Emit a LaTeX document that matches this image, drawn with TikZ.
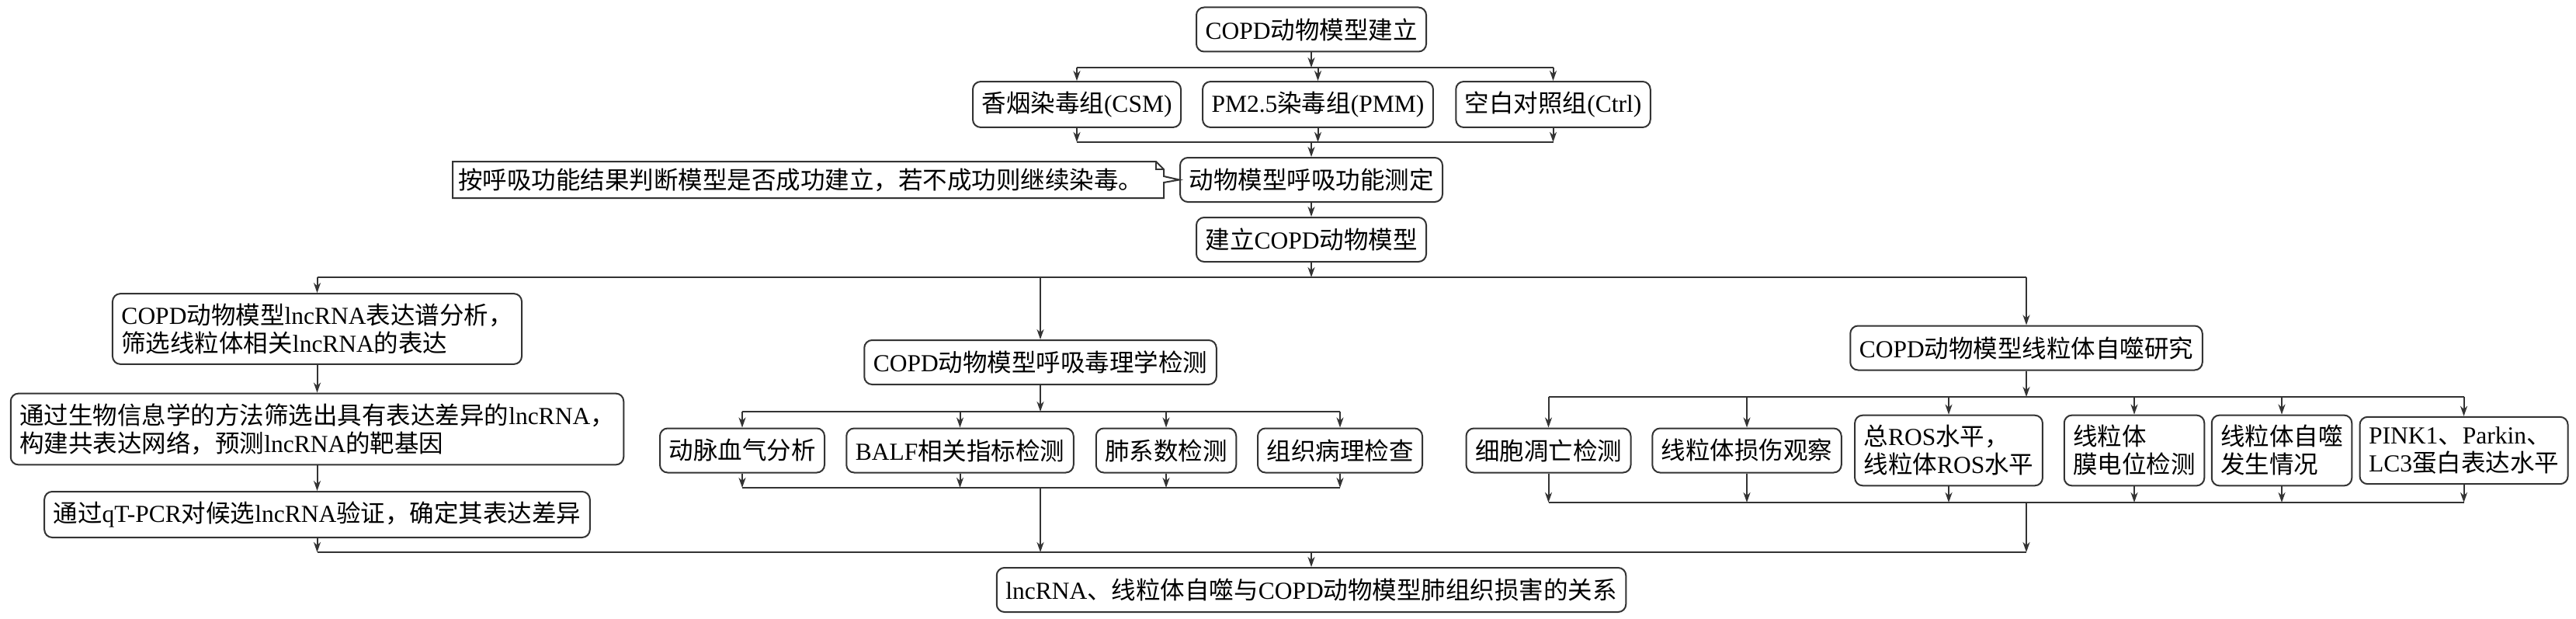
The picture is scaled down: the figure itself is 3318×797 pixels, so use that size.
\documentclass[tikz,border=0pt]{standalone}
\usepackage{fontspec}
\setmainfont{Liberation Serif}
\newfontfamily\cjkfont{Noto Sans CJK SC}
\usetikzlibrary{arrows.meta}

\XeTeXinterchartokenstate=1
\newXeTeXintercharclass\cjkclass
\makeatletter
\count@="3000
\loop\ifnum\count@<"3040 \XeTeXcharclass\count@=\cjkclass \advance\count@ by 1 \repeat
\count@="4E00
\loop\ifnum\count@<"A000 \XeTeXcharclass\count@=\cjkclass \advance\count@ by 1 \repeat
\count@="FF00
\loop\ifnum\count@<"FFF0 \XeTeXcharclass\count@=\cjkclass \advance\count@ by 1 \repeat
\makeatother
\XeTeXinterchartoks 0 \cjkclass = {\begingroup\cjkfont}
\XeTeXinterchartoks 4095 \cjkclass = {\begingroup\cjkfont}
\XeTeXinterchartoks \cjkclass 0 = {\endgroup}
\XeTeXinterchartoks \cjkclass 4095 = {\endgroup}

\tikzset{
  box/.style={draw=black!80,line width=1pt,rounded corners=5pt,fill=white,
    inner xsep=5.75pt,inner ysep=6.4pt,minimum height=28.5pt,align=left,
    font=\fontsize{15.75}{18}\selectfont},
  arr/.style={draw=black!80,line width=1pt,-{Stealth[length=6.5pt,width=4.5pt,inset=2pt]}},
  bar/.style={draw=black!80,line width=1pt}
}

\begin{document}
\begin{tikzpicture}[x=0.5pt,y=-0.5pt]
	\fill[white] (0,0) rectangle (3318,797);
	\begin{scope}[every node/.style={box}]
	\node (top) at (1689,38) {COPD动物模型建立};
	\node (csm) at (1387,134.5) {香烟染毒组(CSM)};
	\node (pmm) at (1697.5,134.5) {PM2.5染毒组(PMM)};
	\node (ctrl) at (2000.5,134.5) {空白对照组(Ctrl)};
	\node (func) at (1689,231.5) {动物模型呼吸功能测定};
	\node (est) at (1689,308.5) {建立COPD动物模型};
	\node (lnc) at (408.5,423.5) {COPD动物模型lncRNA表达谱分析，\\筛选线粒体相关lncRNA的表达};
	\node (bio) at (408.5,552.5) {通过生物信息学的方法筛选出具有表达差异的lncRNA，\\构建共表达网络，预测lncRNA的靶基因};
	\node (qt) at (408.5,662.5) {通过qT-PCR对候选lncRNA验证，确定其表达差异};
	\node (tox) at (1340,466.5) {COPD动物模型呼吸毒理学检测};
	\node (abg) at (956,580) {动脉血气分析};
	\node (balf) at (1236.5,580) {BALF相关指标检测};
	\node (lung) at (1502,580) {肺系数检测};
	\node (histo) at (1726,580) {组织病理检查};
	\node (mito) at (2610,448) {COPD动物模型线粒体自噬研究};
	\node (apo) at (1994.5,580) {细胞凋亡检测};
	\node (dmg) at (2250,580) {线粒体损伤观察};
	\node (ros) at (2510,580) {总ROS水平，\\线粒体ROS水平};
	\node (mmp) at (2749,580) {线粒体\\膜电位检测};
	\node (occ) at (2939,580) {线粒体自噬\\发生情况};
	\node (pink) at (3173.5,580) {PINK1、Parkin、\\LC3蛋白表达水平};
	\node (final) at (1689,759.5) {lncRNA、线粒体自噬与COPD动物模型肺组织损害的关系};
	\end{scope}
	\node[font=\fontsize{15.75}{18}\selectfont,inner sep=0pt,anchor=west] (notetext) at (590,231.5) {按呼吸功能结果判断模型是否成功建立，若不成功则继续染毒。};
	\draw[black!80,line width=1pt] (583,208) -- (1489,208) -- (1499,218) -- (1499,227) -- (func.west) -- (1499,235) -- (1499,255) -- (583,255) -- cycle;
	\draw[black!80,line width=1pt] (1489,208) -- (1489,218) -- (1499,218);
	\coordinate (b1) at (0,87);
	\coordinate (b2) at (0,183);
	\coordinate (b3) at (0,357);
	\coordinate (b4) at (0,530);
	\coordinate (b5) at (0,628);
	\coordinate (b6) at (0,511);
	\coordinate (b8) at (0,647);
	\coordinate (b7) at (0,711);
	\draw [arr] (top) -- (top |- b1);
	\draw [bar] (csm |- b1) -- (ctrl |- b1);
	\draw [arr] (csm |- b1) -- (csm);
	\draw [arr] (pmm |- b1) -- (pmm);
	\draw [arr] (ctrl |- b1) -- (ctrl);
	\draw [arr] (csm) -- (csm |- b2);
	\draw [arr] (pmm) -- (pmm |- b2);
	\draw [arr] (ctrl) -- (ctrl |- b2);
	\draw [bar] (csm |- b2) -- (ctrl |- b2);
	\draw [arr] (func |- b2) -- (func);
	\draw [arr] (func) -- (est);
	\draw [arr] (est) -- (est |- b3);
	\draw [bar] (lnc |- b3) -- (mito |- b3);
	\draw [arr] (lnc |- b3) -- (lnc);
	\draw [arr] (tox |- b3) -- (tox);
	\draw [arr] (mito |- b3) -- (mito);
	\draw [arr] (lnc) -- (bio);
	\draw [arr] (bio) -- (qt);
	\draw [arr] (qt) -- (qt |- b7);
	\draw [arr] (tox) -- (tox |- b4);
	\draw [bar] (abg |- b4) -- (histo |- b4);
	\draw [arr] (abg |- b4) -- (abg);
	\draw [arr] (balf |- b4) -- (balf);
	\draw [arr] (lung |- b4) -- (lung);
	\draw [arr] (histo |- b4) -- (histo);
	\draw [arr] (abg) -- (abg |- b5);
	\draw [arr] (balf) -- (balf |- b5);
	\draw [arr] (lung) -- (lung |- b5);
	\draw [arr] (histo) -- (histo |- b5);
	\draw [bar] (abg |- b5) -- (histo |- b5);
	\draw [arr] (tox |- b5) -- (tox |- b7);
	\draw [arr] (mito) -- (mito |- b6);
	\draw [bar] (apo |- b6) -- (pink |- b6);
	\draw [arr] (apo |- b6) -- (apo);
	\draw [arr] (dmg |- b6) -- (dmg);
	\draw [arr] (ros |- b6) -- (ros);
	\draw [arr] (mmp |- b6) -- (mmp);
	\draw [arr] (occ |- b6) -- (occ);
	\draw [arr] (pink |- b6) -- (pink);
	\draw [arr] (apo) -- (apo |- b8);
	\draw [arr] (dmg) -- (dmg |- b8);
	\draw [arr] (ros) -- (ros |- b8);
	\draw [arr] (mmp) -- (mmp |- b8);
	\draw [arr] (occ) -- (occ |- b8);
	\draw [arr] (pink) -- (pink |- b8);
	\draw [bar] (apo |- b8) -- (pink |- b8);
	\draw [arr] (mito |- b8) -- (mito |- b7);
	\draw [bar] (lnc |- b7) -- (mito |- b7);
	\draw [arr] (final |- b7) -- (final);
\end{tikzpicture}
\end{document}
